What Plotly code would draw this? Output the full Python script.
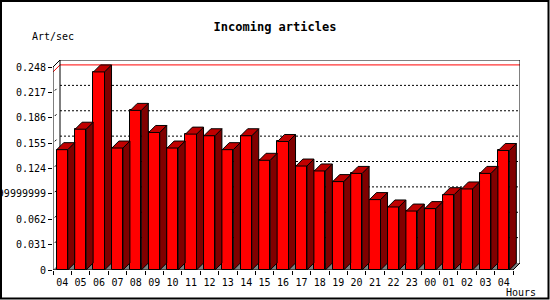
import plotly.graph_objects as go

# ---------------- data ----------------
hours = ["04", "05", "06", "07", "08", "09", "10", "11", "12", "13", "14", "15", "16",
         "17", "18", "19", "20", "21", "22", "23", "00", "01", "02", "03", "04"]
rate = [0.147, 0.172, 0.242, 0.149, 0.195, 0.168, 0.149, 0.166, 0.164, 0.147, 0.164, 0.134, 0.157,
        0.127, 0.121, 0.108, 0.118, 0.086, 0.077, 0.072, 0.075, 0.092, 0.099, 0.118, 0.146]
y_ticks = [0, 0.031, 0.062, 0.093, 0.124, 0.155, 0.186, 0.217, 0.248]
y_tick_text = ["0", "0.031", "0.062", "0.09299999999999999", "0.124", "0.155", "0.186", "0.217", "0.248"]
title_text = "Incoming articles"
y_title = "Art/sec"
x_title = "Hours"

# ---------------- geometry ----------------
W, H = 550, 300
L, R, T, B = 53, 30, 60, 30
depth_px = 7
plot_w = W - L - R
plot_h = H - T - B
n = len(hours)
px_per_cat = (plot_w - depth_px) / n
dx = depth_px / px_per_cat
y_top = y_ticks[-1]
px_per_unit = (plot_h - depth_px) / y_top
dy = depth_px / px_per_unit
bw = 0.6
h = bw / 2
x_lo, x_hi = -0.5, n - 0.5

FRONT = "#FF0000"
TOP = "#C00000"
SIDE = "#800000"
FLOOR = "#808080"
FONT = "DejaVu Sans Mono"


def px_x(p):
    return (p - L) / plot_w


def px_y(p):
    return (H - B - p) / plot_h


fig = go.Figure()

xs = list(range(n))
fig.add_trace(go.Bar(
    x=xs, y=rate, width=bw,
    marker=dict(color=FRONT, line=dict(color="black", width=1)),
    hoverinfo="skip", showlegend=False,
))

side_x, side_y, top_x, top_y = [], [], [], []
for c, v in zip(xs, rate):
    side_x += [c + h, c + h + dx, c + h + dx, c + h, c + h, None]
    side_y += [0, dy, v + dy, v, 0, None]
    top_x += [c - h, c + h, c + h + dx, c - h + dx, c - h, None]
    top_y += [v, v, v + dy, v + dy, v, None]

fig.add_trace(go.Scatter(x=side_x, y=side_y, mode="lines", fill="toself", fillcolor=SIDE,
                         line=dict(color="black", width=1), hoverinfo="skip", showlegend=False))
fig.add_trace(go.Scatter(x=top_x, y=top_y, mode="lines", fill="toself", fillcolor=TOP,
                         line=dict(color="black", width=1), hoverinfo="skip", showlegend=False))

shapes = []
# floor
shapes.append(dict(type="path", xref="x", yref="y", layer="below",
                   path=f"M {x_lo},0 L {x_hi},0 L {x_hi + dx},{dy} L {x_lo + dx},{dy} Z",
                   fillcolor=FLOOR, line=dict(width=0)))
# back-wall grid lines (dotted)
for v in y_ticks[1:-1]:
    shapes.append(dict(type="line", xref="x", yref="y", layer="below",
                       x0=x_lo + dx, y0=v + dy, x1=x_hi + dx, y1=v + dy,
                       line=dict(color="black", width=1, dash="2px,2px")))
    shapes.append(dict(type="line", xref="x", yref="y", layer="below",
                       x0=x_lo + 0.25 * dx, y0=v + 0.25 * dy, x1=x_lo + 0.5 * dx, y1=v + 0.5 * dy,
                       line=dict(color="black", width=1)))
# max line (red)
vmax = max(rate)
shapes.append(dict(type="line", xref="x", yref="y", layer="below",
                   x0=x_lo, y0=vmax, x1=x_lo + dx, y1=vmax + dy, line=dict(color="#FF0000", width=1)))
shapes.append(dict(type="line", xref="x", yref="y", layer="below",
                   x0=x_lo + dx, y0=vmax + dy, x1=x_hi + dx, y1=vmax + dy, line=dict(color="#FF0000", width=1)))
# frame
frame = [
    (x_lo, 0, x_lo, y_top),
    (x_lo, y_top, x_lo + dx, y_top + dy),
    (x_lo + dx, dy, x_lo + dx, y_top + dy),
    (x_lo + dx, y_top + dy, x_hi + dx, y_top + dy),
    (x_hi + dx, dy, x_hi + dx, y_top + dy),
    (x_lo, 0, x_hi, 0),
    (x_hi, 0, x_hi + dx, dy),
]
for x0, y0, x1, y1 in frame:
    shapes.append(dict(type="line", xref="x", yref="y", layer="below",
                       x0=x0, y0=y0, x1=x1, y1=y1, line=dict(color="black", width=1)))
# outer border
shapes.append(dict(type="rect", xref="paper", yref="paper", layer="above",
                   x0=px_x(1), x1=px_x(W - 1.5), y0=px_y(H - 1.5), y1=px_y(1),
                   line=dict(color="black", width=2), fillcolor="rgba(0,0,0,0)"))

fig.update_layout(
    width=W, height=H,
    margin=dict(l=L, r=R, t=T, b=B, pad=0, autoexpand=False),
    paper_bgcolor="white", plot_bgcolor="white",
    font=dict(family=FONT, size=10, color="black"),
    showlegend=False,
    bargap=0,
    shapes=shapes,
    title=dict(text=f"<b>{title_text}</b>", xref="container", yref="container",
               x=0.5, y=1 - 27 / H, xanchor="center", yanchor="middle",
               font=dict(family=FONT, size=12, color="black"), automargin=False),
    xaxis=dict(range=[x_lo, x_hi + dx], tickmode="array", tickvals=xs, ticktext=hours,
               ticks="", showgrid=False, zeroline=False, showline=False, automargin=False,
               ticklabelstandoff=5,
               minor=dict(tickmode="array", tickvals=[i - 0.5 for i in range(n + 1)],
                          ticks="outside", ticklen=4, tickcolor="black", tickwidth=1, showgrid=False),
               tickfont=dict(family=FONT, size=10)),
    yaxis=dict(range=[0, y_top + dy], tickmode="array", tickvals=y_ticks, ticktext=y_tick_text,
               ticks="outside", ticklen=4, tickcolor="black", tickwidth=1, automargin=False,
               showgrid=False, zeroline=False, showline=False,
               tickfont=dict(family=FONT, size=10)),
    annotations=[
        dict(text=y_title, xref="paper", yref="paper", x=px_x(30), y=px_y(37),
             xanchor="left", yanchor="middle", showarrow=False, font=dict(family=FONT, size=10)),
        dict(text=x_title, xref="paper", yref="paper", x=px_x(504), y=px_y(292),
             xanchor="left", yanchor="middle", showarrow=False, font=dict(family=FONT, size=10)),
    ],
)

fig.write_html("out.html")
